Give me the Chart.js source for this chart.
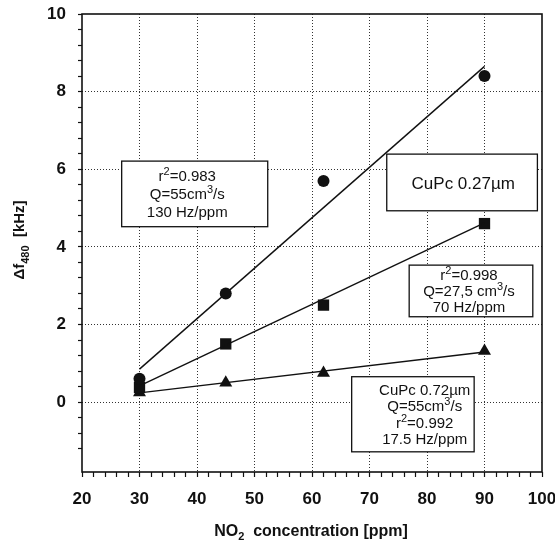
<!DOCTYPE html>
<html>
<head>
<meta charset="utf-8">
<script src="https://cdn.jsdelivr.net/npm/chart.js@4"></script>
<style>
    html, body { margin: 0; padding: 0; background: #fff; }
    canvas { display: block; }
</style>
</head>
<body>
<canvas id="grafico" width="555" height="546"></canvas>
<script>
// ---------------- DATA ----------------
const concentration = [30, 45, 62, 90];
const cupc027Q55 = [0.6, 2.8, 5.7, 8.4];
const cupc027Q27 = [0.38, 1.5, 2.5, 4.6];
const cupc072Q55 = [0.25, 0.5, 0.75, 1.32];

const fitX = [30, 90];
const fitQ55 = [0.85, 8.65];
const fitQ27 = [0.42, 4.62];
const fit072 = [0.24, 1.29];

const xTickLabels = [20, 30, 40, 50, 60, 70, 80, 90, 100];
const yTickLabels = [0, 2, 4, 6, 8, 10];

const xTitle = "NO_2  concentration [ppm]";
const yTitle = "Δf_{480}  [kHz]";

const noteQ55 = ["r^2=0.983", "Q=55cm^3/s", "130 Hz/ppm"];
const noteFilm = ["CuPc 0.27µm"];
const noteQ27 = ["r^2=0.998", "Q=27,5 cm^3/s", "70 Hz/ppm"];
const note072 = ["CuPc 0.72µm", "Q=55cm^3/s", "r^2=0.992", "17.5 Hz/ppm"];

// ---------------- LAYOUT ----------------
const FONT = '"Liberation Sans", Arial, sans-serif';
const INK = "#111";

// box corners in axis units, text centre x in axis units
const boxes = [
    { lines: noteQ55, x1: 26.9, y1: 6.21, x2: 52.3, y2: 4.52, tx: 38.3, size: 15, lead: 18 },
    { lines: noteFilm, x1: 73.0, y1: 6.39, x2: 99.2, y2: 4.93, tx: 86.3, size: 17, lead: 18 },
    { lines: noteQ27, x1: 76.9, y1: 3.53, x2: 98.4, y2: 2.20, tx: 87.3, size: 15, lead: 16 },
    { lines: note072, x1: 66.9, y1: 0.655, x2: 88.2, y2: -1.28, tx: 79.6, size: 15, lead: 16.5 }
];

function pts(xs, ys) {
    return xs.map((x, i) => ({ x, y: ys[i] }));
}

function near(v, list) {
    return list.find(t => Math.abs(t - v) < 1e-6);
}

// ---------------- RICH TEXT (sub/superscripts) ----------------
function parseRich(text) {
    const parts = [];
    let buf = "";
    let i = 0;
    while (i < text.length) {
        const c = text[i];
        if (c === "^" || c === "_") {
            if (buf) { parts.push({ t: buf, k: "" }); buf = ""; }
            let s;
            if (text[i + 1] === "{") {
                const j = text.indexOf("}", i);
                s = text.slice(i + 2, j);
                i = j + 1;
            } else {
                s = text[i + 1];
                i += 2;
            }
            parts.push({ t: s, k: c });
        } else {
            buf += c;
            i++;
        }
    }
    if (buf) parts.push({ t: buf, k: "" });
    return parts;
}

function drawRich(ctx, text, cx, cy, size, weight) {
    const parts = parseRich(text);
    const fontFor = p => `${weight} ${p.k ? Math.round(size * 0.7) : size}px ${FONT}`;
    let total = 0;
    parts.forEach(p => {
        ctx.font = fontFor(p);
        p.w = ctx.measureText(p.t).width;
        total += p.w;
    });
    let x = cx - total / 2;
    const base = cy + size * 0.36;
    ctx.textAlign = "left";
    ctx.textBaseline = "alphabetic";
    parts.forEach(p => {
        ctx.font = fontFor(p);
        const dy = p.k === "^" ? -size * 0.42 : p.k === "_" ? size * 0.28 : 0;
        ctx.fillText(p.t, x, base + dy);
        x += p.w;
    });
}

// ---------------- PLUGIN ----------------
const extras = {
    id: "extras",
    afterDatasetsDraw(chart) {
        const { ctx, chartArea: a, scales: { x, y } } = chart;
        ctx.save();
        ctx.fillStyle = INK;

        boxes.forEach(b => {
            const l = x.getPixelForValue(b.x1), r = x.getPixelForValue(b.x2);
            const t = y.getPixelForValue(b.y1), btm = y.getPixelForValue(b.y2);
            ctx.fillStyle = "#fff";
            ctx.fillRect(l, t, r - l, btm - t);
            ctx.lineWidth = 1.3;
            ctx.strokeStyle = INK;
            ctx.strokeRect(l, t, r - l, btm - t);
            ctx.fillStyle = INK;
            const mid = (t + btm) / 2;
            const tx = x.getPixelForValue(b.tx);
            b.lines.forEach((line, i) => {
                const cy = mid + (i - (b.lines.length - 1) / 2) * b.lead;
                drawRich(ctx, line, tx, cy, b.size, "normal");
            });
        });

        // frame
        ctx.lineWidth = 1.6;
        ctx.strokeStyle = INK;
        ctx.strokeRect(a.left, a.top, a.right - a.left, a.bottom - a.top);

        // axis titles
        drawRich(ctx, xTitle, (a.left + a.right) / 2 - 1, 530, 16, "bold");
        ctx.translate(19, 240);
        ctx.rotate(-Math.PI / 2);
        drawRich(ctx, yTitle, 0, 0, 15, "bold");
        ctx.restore();
    }
};

// ---------------- CHART ----------------
const dotStyle = { showLine: false, backgroundColor: INK, borderColor: INK, pointBorderWidth: 0 };
const fitStyle = { showLine: true, pointRadius: 0, borderColor: INK, borderWidth: 1.4, fill: false };

new Chart(document.getElementById("grafico"), {
    type: "scatter",
    data: {
        datasets: [
            { data: pts(fitX, fitQ55), ...fitStyle },
            { data: pts(fitX, fitQ27), ...fitStyle },
            { data: pts(fitX, fit072), ...fitStyle },
            { data: pts(concentration, cupc027Q55), pointStyle: "circle", pointRadius: 6, ...dotStyle },
            { data: pts(concentration, cupc027Q27), pointStyle: "rect", pointRadius: 8, ...dotStyle },
            { data: pts(concentration, cupc072Q55), pointStyle: "triangle", pointRadius: 7.5, ...dotStyle }
        ]
    },
    options: {
        responsive: false,
        animation: false,
        layout: { padding: { left: 0, top: 14, right: 13, bottom: 0 } },
        plugins: { legend: { display: false }, tooltip: { enabled: false } },
        scales: {
            x: {
                type: "linear",
                min: 20,
                max: 100,
                afterFit(scale) {
                    scale.height = 74;
                    scale.paddingLeft = 0;
                    scale.paddingRight = 0;
                },
                ticks: {
                    stepSize: 2,
                    autoSkip: false,
                    maxRotation: 0,
                    minRotation: 0,
                    padding: 12,
                    color: INK,
                    font: { family: FONT, size: 17, weight: "bold" },
                    callback: v => (near(v, xTickLabels) !== undefined ? String(v) : "")
                },
                grid: {
                    tickLength: 5,
                    tickColor: INK,
                    tickWidth: 1.2,
                    color: c => {
                        const v = c.tick ? c.tick.value : null;
                        return v !== null && near(v, xTickLabels) !== undefined && v > 20 && v < 100 ? "#333" : "rgba(0,0,0,0)";
                    }
                },
                border: { display: false, dash: [1, 2] }
            },
            y: {
                type: "linear",
                min: -1.8,
                max: 10,
                afterFit(scale) {
                    scale.width = 82;
                    scale.paddingTop = 0;
                    scale.paddingBottom = 0;
                },
                afterBuildTicks(scale) {
                    scale.ticks = scale.ticks.filter(t => Math.abs(t.value / 0.4 - Math.round(t.value / 0.4)) < 1e-6);
                },
                ticks: {
                    stepSize: 0.4,
                    autoSkip: false,
                    padding: 12,
                    color: INK,
                    font: { family: FONT, size: 17, weight: "bold" },
                    callback: v => {
                        const t = near(v, yTickLabels);
                        return t !== undefined ? String(t) : "";
                    }
                },
                grid: {
                    tickLength: 4,
                    tickColor: INK,
                    tickWidth: 1.2,
                    color: c => {
                        const v = c.tick ? c.tick.value : null;
                        return v !== null && near(v, yTickLabels) !== undefined && v < 10 ? "#333" : "rgba(0,0,0,0)";
                    }
                },
                border: { display: false, dash: [1, 2] }
            }
        }
    },
    plugins: [extras]
});
</script>
</body>
</html>
